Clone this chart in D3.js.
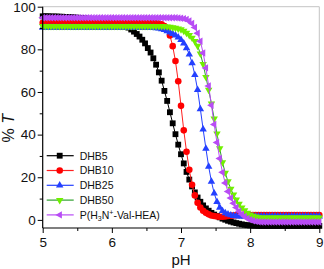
<!DOCTYPE html>
<html>
<head>
<meta charset="utf-8">
<script src="https://cdn.jsdelivr.net/npm/d3@7"></script>
<style>
  html, body { margin: 0; padding: 0; background: #fff; }
  svg { display: block; font-family: "Liberation Sans", Arial, sans-serif; }
</style>
</head>
<body>
<div id="chart"></div>
<script>
// pH sampling of every series: 5.00, 5.04, ... 9.00
var PH_START = 5, PH_STEP = 0.04;

var dhb5 = [
  95.5, 95.5, 95.5, 95.4, 95.4, 95.4, 95.3, 95.3, 95.2, 95.2, 95.1, 95.0, 94.9,
  94.8, 94.7, 94.5, 94.4, 94.2, 94.0, 93.8, 93.6, 93.4, 93.2, 93.0, 92.8,
  92.7, 92.5, 92.3, 92.0, 91.6,
  91.0, 90.2, 89.3, 88.3, 87.2, 86.0, 84.5, 82.8,
  80.6, 78.5, 75.8, 72.8, 69.2, 65.3, 60.5, 55.8, 50.5, 45.3, 40.2, 35.3,
  30.8, 26.5, 22.5, 18.9, 15.7, 12.9, 10.5, 8.5, 6.8, 5.4, 4.3, 3.3, 2.5,
  1.8, 1.2, 0.6, 0.1, -0.4, -0.8, -1.2, -1.5, -1.8, -2.1, -2.3, -2.5, -2.6,
  -2.7, -2.7, -2.8, -2.8, -2.8, -2.8, -2.8, -2.8, -2.8, -2.8, -2.8, -2.8, -2.8,
  -2.8, -2.8, -2.8, -2.8, -2.8, -2.8, -2.8, -2.8, -2.8, -2.8, -2.8, -2.8
];

var dhb10 = [
  92.4, 92.4, 92.4, 92.4, 92.4, 92.4, 92.4, 92.4, 92.4, 92.4, 92.4, 92.4, 92.4,
  92.4, 92.4, 92.4, 92.4, 92.4, 92.4, 92.4, 92.4, 92.4, 92.4, 92.4, 92.4,
  92.4, 92.4, 92.4, 92.4, 92.4, 92.4, 92.4, 92.4, 92.4, 92.4, 92.4, 92.4,
  92.4, 92.4, 92.4, 92.4,
  92.3, 92.1, 91.7, 90.9, 89.5, 86.5, 81.5, 74.5, 65.0,
  53.5, 42.0, 32.0, 23.5, 16.5, 11.5, 8.0, 5.8, 4.3, 3.3, 2.6, 2.1, 1.8,
  1.6, 1.5, 1.5, 1.6, 1.8, 2.0, 2.1, 2.2,
  2.3, 2.3, 2.3, 2.3, 2.3, 2.3, 2.3, 2.3, 2.3, 2.3, 2.3, 2.3, 2.3, 2.3, 2.3,
  2.3, 2.3, 2.3, 2.3, 2.3, 2.3, 2.3, 2.3, 2.3, 2.3, 2.3, 2.3, 2.3, 2.3, 2.3
];

var dhb25 = [
  90.2, 90.2, 90.2, 90.2, 90.2, 90.2, 90.2, 90.2, 90.2, 90.2, 90.2, 90.2, 90.2,
  90.2, 90.2, 90.2, 90.2, 90.2, 90.2, 90.2, 90.2, 90.2, 90.2, 90.2, 90.2,
  90.2, 90.2, 90.2, 90.2, 90.2, 90.2, 90.2, 90.2, 90.2, 90.2, 90.2, 90.2,
  90.2, 90.2, 90.2, 90.2,
  90.0, 89.8, 89.5, 89.1, 88.6, 88.0, 87.3, 86.6, 85.6,
  84.5, 82.8, 80.6, 77.6, 73.6, 68.0, 61.0, 52.0, 42.5, 33.5, 25.0, 18.0, 12.5,
  8.5, 5.8, 4.2, 3.2, 2.6, 2.2, 1.9, 1.8,
  1.7, 1.7, 1.7, 1.7, 1.7, 1.7, 1.7, 1.7, 1.7, 1.7, 1.7, 1.7, 1.7, 1.7, 1.7,
  1.7, 1.7, 1.7, 1.7, 1.7, 1.7, 1.7, 1.7, 1.7, 1.7, 1.7, 1.7, 1.7, 1.7, 1.7
];

var dhb50 = [
  90.9, 90.9, 90.9, 90.9, 90.9, 90.9, 90.9, 90.9, 90.9, 90.9, 90.9, 90.9, 90.9,
  90.9, 90.9, 90.9, 90.9, 90.9, 90.9, 90.9, 90.9, 90.9, 90.9, 90.9, 90.9,
  90.9, 90.9, 90.9, 90.9, 90.9, 90.9, 90.9, 90.9, 90.9, 90.9, 90.9, 90.9,
  90.9, 90.9, 90.9, 90.9, 90.9, 90.9, 90.9,
  90.8, 90.7, 90.5, 90.3, 90.0, 89.7,
  89.3, 88.6, 87.7, 86.6, 85.4, 83.8, 81.6, 78.0, 73.0, 67.0, 61.0, 54.5, 47.5,
  40.5, 33.5, 27.0, 22.0, 18.0, 14.5, 11.8, 9.5, 7.5, 5.8, 4.4, 3.3, 2.5,
  1.9, 1.5, 1.2,
  1.0, 1.0, 1.0, 1.0, 1.0, 1.0, 1.0, 1.0, 1.0, 1.0, 1.0,
  1.0, 1.0, 1.0, 1.0, 1.0, 1.0, 1.0, 1.0, 1.0, 1.0, 1.0
];

var pvalhea = [
  94.8, 94.8, 94.8, 94.8, 94.8, 94.8, 94.8, 94.8, 94.8, 94.8, 94.8, 94.8, 94.8,
  94.8, 94.8, 94.8, 94.8, 94.8, 94.8, 94.8, 94.8, 94.8, 94.8, 94.8, 94.8,
  94.8, 94.8, 94.8, 94.8, 94.8, 94.8, 94.8, 94.8, 94.8, 94.8, 94.8, 94.8,
  94.8, 94.8, 94.8, 94.8, 94.8, 94.8, 94.8, 94.8, 94.8, 94.8, 94.8, 94.8,
  94.7,
  94.6, 94.4, 94.0, 93.3, 92.1, 90.3, 87.6, 83.8, 78.3, 71.3, 62.8, 53.8, 44.8,
  36.3, 28.8, 22.3, 17.3, 13.3, 10.3, 7.8, 5.8, 4.1, 2.7, 1.6, 0.7, 0.1,
  -0.4, -0.7, -0.9,
  -1.0, -1.0, -1.0, -1.0, -1.0, -1.0, -1.0, -1.0, -1.0, -1.0, -1.0,
  -1.0, -1.0, -1.0, -1.0, -1.0, -1.0, -1.0, -1.0, -1.0, -1.0, -1.0
];

var xTicks = [5, 6, 7, 8, 9];
var yTicks = [0, 20, 40, 60, 80, 100];

var series = [
  { name: 'DHB5', values: dhb5, color: '#000000', line: '#000000', symbol: 'square' },
  { name: 'DHB10', values: dhb10, color: '#ff0000', line: '#ff2020', symbol: 'circle' },
  { name: 'DHB25', values: dhb25, color: '#2440ff', line: '#2440ff', symbol: 'up' },
  { name: 'DHB50', values: dhb50, color: '#70f000', line: '#2ea02e', symbol: 'down' },
  { name: 'P(H3N+-Val-HEA)', values: pvalhea, color: '#b84cf5', line: '#b84cf5', symbol: 'left' }
];

var W = 324, H = 269;
var margin = { top: 6.7, right: 4.7, bottom: 41, left: 42.7 };
var width = W - margin.left - margin.right;
var height = H - margin.top - margin.bottom;

var svg = d3.select('#chart').append('svg')
  .attr('width', W)
  .attr('height', H);

var g = svg.append('g')
  .attr('transform', 'translate(' + margin.left + ',' + margin.top + ')');

var x = d3.scaleLinear().domain([5, 9]).range([0, width]);
var y = d3.scaleLinear().domain([-3.8, 100]).range([height, 0]);

// marker shapes
function symbolPath(kind) {
  if (kind === 'square') return d3.symbol(d3.symbolSquare, 34)();
  if (kind === 'circle') return d3.symbol(d3.symbolCircle, 34)();
  return d3.symbol(d3.symbolTriangle, 24)();
}
function symbolRotate(kind) {
  if (kind === 'down') return 180;
  if (kind === 'left') return -90;
  return 0;
}

// frame (top / right in light grey)
g.append('line')
  .attr('x1', 0).attr('x2', width).attr('y1', 0).attr('y2', 0)
  .attr('stroke', '#c4c4c4').attr('stroke-width', 1);
g.append('line')
  .attr('x1', width).attr('x2', width).attr('y1', 0).attr('y2', height)
  .attr('stroke', '#c4c4c4').attr('stroke-width', 1);

// series
var line = d3.line()
  .x(function (d, i) { return x(PH_START + i * PH_STEP); })
  .y(function (d) { return y(d); });

series.forEach(function (s) {
  var sg = g.append('g');
  sg.append('path')
    .attr('d', line(s.values))
    .attr('fill', 'none')
    .attr('stroke', s.line)
    .attr('stroke-width', 1);

  var p = symbolPath(s.symbol), r = symbolRotate(s.symbol);
  sg.selectAll('path.mk')
    .data(s.values)
    .join('path')
    .attr('class', 'mk')
    .attr('d', p)
    .attr('fill', s.color)
    .attr('transform', function (d, i) {
      return 'translate(' + x(PH_START + i * PH_STEP) + ',' + y(d) + ') rotate(' + r + ')';
    });
});

// axes
var xAxis = d3.axisBottom(x).tickValues(xTicks).tickSize(5).tickPadding(4)
  .tickFormat(d3.format('d'));
var gx = g.append('g')
  .attr('transform', 'translate(0,' + height + ')')
  .call(xAxis);
g.append('g')
  .attr('transform', 'translate(0,' + height + ')')
  .call(d3.axisBottom(x).tickValues([5.5, 6.5, 7.5, 8.5]).tickSize(3).tickFormat(''))
  .select('.domain').remove();

var yAxis = d3.axisLeft(y).tickValues(yTicks).tickSize(5).tickPadding(2);
var gy = g.append('g').call(yAxis);
g.append('g')
  .call(d3.axisLeft(y).tickValues([10, 30, 50, 70, 90]).tickSize(3).tickFormat(''))
  .select('.domain').remove();

[gx, gy].forEach(function (ax) {
  ax.select('.domain').attr('stroke', '#000').attr('stroke-width', 1.2);
  ax.selectAll('.tick text')
    .attr('font-size', '13.5px')
    .attr('fill', '#111')
    .style('font-family', '"Liberation Sans", Arial, sans-serif');
});
// plain L-shaped axis lines (no end caps)
gx.select('.domain').attr('d', 'M0,0H' + width);
gy.select('.domain').attr('d', 'M0,' + height + 'V0');

// axis titles
svg.append('text')
  .attr('x', margin.left + width / 2)
  .attr('y', 265)
  .attr('text-anchor', 'middle')
  .attr('font-size', '15px')
  .attr('fill', '#111')
  .text('pH');

var yt = svg.append('text')
  .attr('transform', 'translate(14,' + (margin.top + y(43)) + ') rotate(-90)')
  .attr('text-anchor', 'middle')
  .attr('font-size', '16px')
  .attr('fill', '#111');
yt.append('tspan').text('% ');
yt.append('tspan').attr('font-style', 'italic').text('T');

// legend
var legend = g.append('g');
series.forEach(function (s, i) {
  var ly = 149 + i * 14.8;
  var row = legend.append('g').attr('transform', 'translate(0,' + ly + ')');
  row.append('line')
    .attr('x1', 4).attr('x2', 31).attr('y1', 0).attr('y2', 0)
    .attr('stroke', s.line).attr('stroke-width', 1.2);
  row.append('path')
    .attr('d', symbolPath(s.symbol))
    .attr('fill', s.color)
    .attr('transform', 'translate(17,0) rotate(' + symbolRotate(s.symbol) + ')');
  var t = row.append('text')
    .attr('x', 37).attr('y', 3.8)
    .attr('font-size', '10.5px')
    .attr('fill', '#111');
  if (i < 4) {
    t.text(s.name);
  } else {
    t.append('tspan').text('P(H');
    t.append('tspan').attr('font-size', '7px').attr('dy', 2.5).text('3');
    t.append('tspan').attr('dy', -2.5).text('N');
    t.append('tspan').attr('font-size', '7px').attr('dy', -4).text('+');
    t.append('tspan').attr('dy', 4).text('-Val-HEA)');
  }
});
</script>
</body>
</html>
